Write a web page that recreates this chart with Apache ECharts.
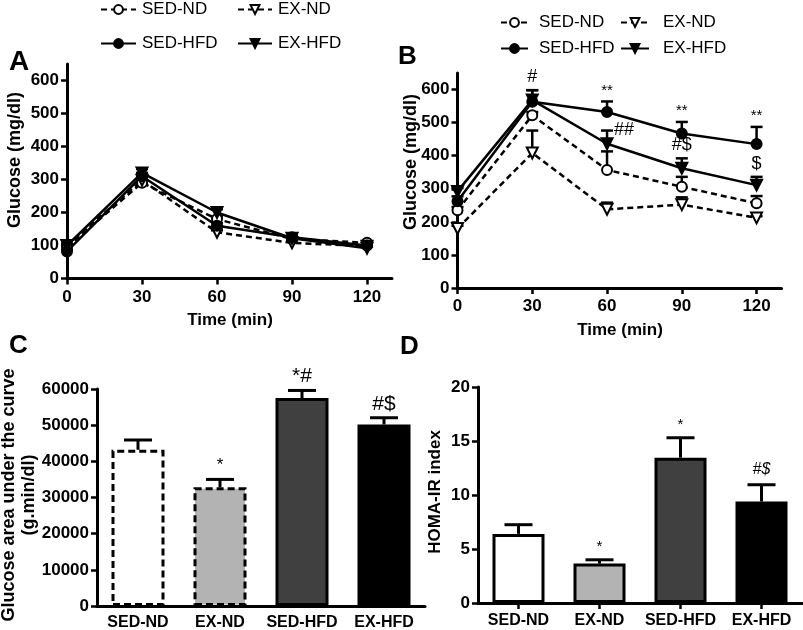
<!DOCTYPE html>
<html><head><meta charset="utf-8">
<script src="https://cdn.jsdelivr.net/npm/echarts@6/dist/echarts.min.js"></script>
<style>html,body{margin:0;padding:0;background:#fff}#c{width:803px;height:630px}</style>
</head><body><div id="c"></div>
<script>
// ---------- data ----------
const groups = ['SED-ND', 'EX-ND', 'SED-HFD', 'EX-HFD'];
const timeMin = [0, 30, 60, 90, 120];
const timeTicks = [0, 30, 60, 90, 120];
const glucoseTicks = [0, 100, 200, 300, 400, 500, 600];

// Panel A
const sedNdA = [95, 290, 180, 120, 108];
const exNdA = [100, 298, 140, 108, 98];
const sedHfdA = [82, 310, 160, 125, 100];
const exHfdA = [100, 320, 200, 122, 92];
const sedNdAErr = [5, 8, 8, 5, 4];
const exNdAErr = [5, 8, 6, 5, 4];
const sedHfdAErr = [5, 10, 8, 5, 4];
const exHfdAErr = [5, 12, 10, 5, 4];

// Panel B
const sedNdB = [235, 522, 357, 306, 256];
const exNdB = [180, 408, 238, 252, 212];
const sedHfdB = [262, 563, 532, 467, 435];
const exHfdB = [292, 568, 436, 362, 311];
const sedNdBErr = [10, 10, 56, 30, 22];
const exNdBErr = [8, 68, 20, 22, 5];
const sedHfdBErr = [15, 35, 32, 35, 52];
const exHfdBErr = [10, 30, 40, 30, 25];
// [time, group index, text]
const annB = [[30, 2, '#'], [60, 2, '**'], [60, 3, '##'], [90, 2, '**'], [90, 3, '#$'], [120, 2, '**'], [120, 3, '$']];

// Panel C
const aucMean = [43200, 32800, 57500, 50200];
const aucErr = [2700, 2200, 2100, 1850];
const annC = [[1, '*'], [2, '*#'], [3, '#$']];

// Panel D
const homaMean = [6.4, 3.65, 13.45, 9.4];
const homaErr = [0.85, 0.35, 1.85, 1.55];
const annD = [[1, '*'], [2, '*'], [3, '#$']];

// ---------- styling ----------
const FF = '"Liberation Sans", Arial, Helvetica, sans-serif';
const BLACK = '#000';
const markerStyles = [
  { symbol: 'circle', rotate: 0, fill: '#fff', dash: [6, 4] },
  { symbol: 'triangle', rotate: 180, fill: '#fff', dash: [6, 4] },
  { symbol: 'circle', rotate: 0, fill: '#000', dash: 'solid' },
  { symbol: 'triangle', rotate: 180, fill: '#000', dash: 'solid' }
];
const barFills = ['#ffffff', '#b3b3b3', '#404040', '#000000'];

const chart = echarts.init(document.getElementById('c'), null, { renderer: 'canvas' });

function valueAxis(gridIndex, max, ticks, margin) {
  return {
    gridIndex, type: 'value', min: 0, max,
    axisLine: { show: true, onZero: false, lineStyle: { color: BLACK, width: 3 } },
    axisTick: { show: true, customValues: ticks, length: 6, lineStyle: { color: BLACK, width: 2.5 } },
    axisLabel: { customValues: ticks, color: BLACK, fontSize: 17, fontWeight: 'bold', fontFamily: FF, margin, formatter: v => String(v) },
    splitLine: { show: false }
  };
}
function catAxis(gridIndex, showTick, margin) {
  return {
    gridIndex, type: 'category', data: groups,
    axisLine: { show: true, lineStyle: { color: BLACK, width: 3 } },
    axisTick: { show: showTick, alignWithLabel: true, length: 6, lineStyle: { color: BLACK, width: 2.5 } },
    axisLabel: { color: BLACK, fontSize: 16, fontWeight: 'bold', fontFamily: FF, margin, interval: 0 },
    splitLine: { show: false }
  };
}
function yCatValueAxis(gridIndex, max, interval) {
  return {
    gridIndex, type: 'value', min: 0, max, interval,
    axisLine: { show: true, lineStyle: { color: BLACK, width: 3 } },
    axisTick: { show: true, length: 6, lineStyle: { color: BLACK, width: 2.5 } },
    axisLabel: { color: BLACK, fontSize: 17, fontWeight: 'bold', fontFamily: FF, margin: 8, formatter: v => String(v) },
    splitLine: { show: false }
  };
}

function errBarSeries(name, axisIdx, data, capHalf, lw) {
  return {
    type: 'custom', name, xAxisIndex: axisIdx, yAxisIndex: axisIdx, silent: true, z: 1,
    encode: { x: 0, y: 1 },
    data,
    renderItem(params, api) {
      const x = api.value(0), m = api.value(1), e = api.value(2);
      const p0 = api.coord([x, m]);
      const p1 = api.coord([x, m + e]);
      return {
        type: 'group', children: [
          { type: 'line', shape: { x1: p0[0], y1: p0[1], x2: p1[0], y2: p1[1] }, style: { stroke: BLACK, lineWidth: lw } },
          { type: 'line', shape: { x1: p1[0] - capHalf, y1: p1[1], x2: p1[0] + capHalf, y2: p1[1] }, style: { stroke: BLACK, lineWidth: lw } }
        ]
      };
    }
  };
}

function annSeries(name, axisIdx, data, fontFor, placeFor) {
  return {
    type: 'custom', name, xAxisIndex: axisIdx, yAxisIndex: axisIdx, silent: true, z: 5,
    encode: { x: 0, y: 1 },
    data,
    renderItem(params, api) {
      const p = api.coord([api.value(0), api.value(1)]);
      const txt = data[params.dataIndex][2];
      const pl = placeFor(txt);
      return {
        type: 'text', x: p[0] + pl.dx, y: p[1] + pl.dy,
        style: { text: txt, font: fontFor(txt), fill: BLACK, textAlign: pl.align, textVerticalAlign: 'middle' }
      };
    }
  };
}

const seriesA = [sedNdA, exNdA, sedHfdA, exHfdA];
const errsA = [sedNdAErr, exNdAErr, sedHfdAErr, exHfdAErr];
const seriesB = [sedNdB, exNdB, sedHfdB, exHfdB];
const errsB = [sedNdBErr, exNdBErr, sedHfdBErr, exHfdBErr];

const series = [];
[[seriesA, errsA, 0], [seriesB, errsB, 1]].forEach(([vals, errs, ai]) => {
  vals.forEach((arr, gi) => {
    series.push(errBarSeries('err' + ai + '_' + gi, ai, timeMin.map((t, i) => [t, arr[i], errs[gi][i]]), 6, 2.5));
  });
  vals.forEach((arr, gi) => {
    const ms = markerStyles[gi];
    series.push({
      type: 'line', name: groups[gi], xAxisIndex: ai, yAxisIndex: ai, z: 3,
      data: timeMin.map((t, i) => [t, arr[i]]),
      symbol: ms.symbol, symbolRotate: ms.rotate, symbolSize: ms.symbol === 'circle' ? 10 : 11,
      showAllSymbol: true,
      itemStyle: { color: ms.fill, borderColor: BLACK, borderWidth: 2 },
      lineStyle: { color: BLACK, width: 2.5, type: ms.dash },
      emphasis: { disabled: true }, animation: false
    });
  });
});

const annBData = annB.map(([t, gi, txt]) => {
  const i = timeMin.indexOf(t);
  return [t, seriesB[gi][i] + errsB[gi][i], txt];
});
series.push(annSeries('annB', 1, annBData,
  txt => (txt === '**' ? '15px ' + FF : '18px ' + FF),
  txt => (txt === '##' ? { dx: 7, dy: -1, align: 'left' } : (txt === '**' ? { dx: 0, dy: -11, align: 'center' } : { dx: 0, dy: -13, align: 'center' }))));

// Panel C bars
series.push({
  type: 'bar', name: 'auc', xAxisIndex: 2, yAxisIndex: 2, barWidth: 53, z: 2, animation: false,
  data: aucMean.map((v, i) => ({
    value: v,
    itemStyle: { color: barFills[i], borderColor: BLACK, borderWidth: 3, borderType: i < 2 ? [7, 4] : 'solid' }
  }))
});
series.push(errBarSeries('errC', 2, aucMean.map((v, i) => [i, v, aucErr[i]]), 14, 3));
series.push(annSeries('annC', 2, annC.map(([i, txt]) => [i, aucMean[i] + aucErr[i], txt]),
  txt => (txt === '*' ? '17px ' + FF : '21px ' + FF),
  txt => ({ dx: 0, dy: -14, align: 'center' })));

// Panel D bars
series.push({
  type: 'bar', name: 'homa', xAxisIndex: 3, yAxisIndex: 3, barWidth: 52, z: 2, animation: false,
  data: homaMean.map((v, i) => ({
    value: v,
    itemStyle: { color: barFills[i], borderColor: BLACK, borderWidth: 3 }
  }))
});
series.push(errBarSeries('errD', 3, homaMean.map((v, i) => [i, v, homaErr[i]]), 14, 3));
series.push(annSeries('annD', 3, annD.map(([i, txt]) => [i, homaMean[i] + homaErr[i], txt]),
  txt => (txt === '*' ? '15px ' + FF : 'italic 16px ' + FF),
  txt => ({ dx: 0, dy: txt === '*' ? -13 : -15, align: 'center' })));

function legendItem(name, left, top, w, pad) {
  return {
    data: [name], left, top, padding: 0, itemWidth: w, itemHeight: 11, selectedMode: false,
    textStyle: { fontSize: 17, fontFamily: FF, color: BLACK, padding: [0, 0, 0, pad] }
  };
}

const option = {
  animation: false,
  backgroundColor: '#fff',
  grid: [
    { left: 67, top: 64, width: 325, height: 214.5, outerBoundsMode: 'none' },
    { left: 457.5, top: 73, width: 324, height: 215, outerBoundsMode: 'none' },
    { left: 97, top: 389, width: 328, height: 217, outerBoundsMode: 'none' },
    { left: 478, top: 387, width: 324, height: 216, outerBoundsMode: 'none' }
  ],
  xAxis: [
    valueAxis(0, 130, timeTicks, 10),
    valueAxis(1, 130, timeTicks, 10),
    catAxis(2, false, 9),
    catAxis(3, true, 10)
  ],
  yAxis: [
    valueAxis(0, 650, glucoseTicks, 8),
    valueAxis(1, 650, glucoseTicks, 8),
    yCatValueAxis(2, 60000, 10000),
    yCatValueAxis(3, 20, 5)
  ],
  legend: [
    legendItem('SED-ND', 100, 1, 35, 1),
    legendItem('EX-ND', 237, 1, 34, 1),
    legendItem('SED-HFD', 100, 35, 35, 1),
    legendItem('EX-HFD', 237, 35, 34, 1),
    legendItem('SED-ND', 500, 14, 27, 6),
    legendItem('EX-ND', 620, 14, 28, 9),
    legendItem('SED-HFD', 500, 40, 27, 6),
    legendItem('EX-HFD', 620, 40, 28, 9)
  ],
  graphic: [
    { type: 'text', left: 9, top: 48, style: { text: 'A', font: 'bold 28px ' + FF, fill: BLACK } },
    { type: 'text', left: 398, top: 44, style: { text: 'B', font: 'bold 26px ' + FF, fill: BLACK } },
    { type: 'text', left: 9, top: 333, style: { text: 'C', font: 'bold 26px ' + FF, fill: BLACK } },
    { type: 'text', left: 400, top: 334, style: { text: 'D', font: 'bold 26px ' + FF, fill: BLACK } },
    { type: 'text', x: 15, y: 160, rotation: Math.PI / 2, style: { text: 'Glucose (mg/dl)', font: 'bold 18px ' + FF, fill: BLACK, textAlign: 'center', textVerticalAlign: 'middle' } },
    { type: 'text', x: 411, y: 162, rotation: Math.PI / 2, style: { text: 'Glucose (mg/dl)', font: 'bold 18px ' + FF, fill: BLACK, textAlign: 'center', textVerticalAlign: 'middle' } },
    { type: 'text', x: 230, y: 320, style: { text: 'Time (min)', font: 'bold 17px ' + FF, fill: BLACK, textAlign: 'center', textVerticalAlign: 'middle' } },
    { type: 'text', x: 620, y: 330, style: { text: 'Time (min)', font: 'bold 17px ' + FF, fill: BLACK, textAlign: 'center', textVerticalAlign: 'middle' } },
    { type: 'text', x: 9, y: 495, rotation: Math.PI / 2, style: { text: 'Glucose area under the curve', font: 'bold 18px ' + FF, fill: BLACK, textAlign: 'center', textVerticalAlign: 'middle' } },
    { type: 'text', x: 29, y: 495, rotation: Math.PI / 2, style: { text: '(g.min/dl)', font: 'bold 18px ' + FF, fill: BLACK, textAlign: 'center', textVerticalAlign: 'middle' } },
    { type: 'text', x: 435, y: 492, rotation: Math.PI / 2, style: { text: 'HOMA-IR index', font: 'bold 17px ' + FF, fill: BLACK, textAlign: 'center', textVerticalAlign: 'middle' } }
  ],
  series
};
chart.setOption(option);
</script></body></html>
